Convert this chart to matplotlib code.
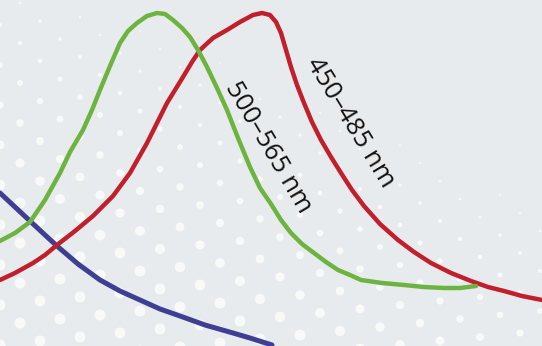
import numpy as np
import matplotlib
matplotlib.use("Agg")
import matplotlib.pyplot as plt

# Curve samples (horizontal position, vertical position from top)
green_x = [0, 15, 30, 45, 60, 70, 83, 92, 100, 110, 120, 128, 137, 147, 157, 165, 173, 182, 190, 198,
           207, 217, 227, 238, 250, 260, 271, 281, 291, 302, 314, 326, 338, 350, 361, 382, 404, 424,
           444, 460, 476]
green_y = [241, 233, 222, 200, 173, 152, 130, 110, 90, 66, 43, 31, 23, 16, 13, 14, 20, 28, 37, 50,
           67, 88, 110, 138, 167, 188, 204, 220, 233, 244, 253, 262, 270, 275, 280, 283, 285, 287,
           288, 288, 286]

red_x = [0, 15, 33, 45, 57, 75, 93, 113, 130, 147, 157, 167, 175, 183, 192, 200, 213, 227, 240, 253,
         262, 270, 276, 281, 286, 291, 297, 304, 312, 321, 331, 341, 352, 364, 380, 398, 414, 431,
         451, 471, 488, 504, 522, 542]
red_y = [280, 273, 263, 255, 245, 231, 216, 196, 173, 143, 123, 103, 90, 77, 62, 50, 38, 30, 22, 15,
         13, 15, 22, 33, 50, 67, 85, 103, 122, 140, 157, 173, 190, 206, 224, 240, 252, 263,
         273, 281, 287, 291, 296, 300]

blue_x = [0, 15, 30, 45, 57, 78, 100, 120, 140, 160, 180, 205, 233, 250, 272]
blue_y = [193, 207, 221, 235, 246, 264, 280, 291, 300, 309, 316, 325, 333, 338, 345]

labels = ["500–565 nm", "450–485 nm"]
label_pos = [(268, 147), (350, 123)]
label_rot = [-59.5, -58.5]

W, H = 542, 346
fig = plt.figure(figsize=(W / 100, H / 100), dpi=100)
ax = fig.add_axes([0, 0, 1, 1])
ax.set_xlim(0, W)
ax.set_ylim(H, 0)
ax.axis("off")
fig.patch.set_facecolor("#e8ebee")
ax.set_facecolor("#e8ebee")

# decorative dot pattern (regular grid)
dx, dy = 40, 20
pts_x, pts_y, sizes = [], [], []
for r, yy in enumerate(np.arange(5, H + 40, dy)):
    off = (r % 2) * dx / 2
    for xx in np.arange(-20 + off, W + 20, dx):
        u = xx / W
        v = yy / H
        d = 3 + 14 * v - 12 * u
        if d > 1.5:
            pts_x.append(xx)
            pts_y.append(yy - 0.1 * xx)
            sizes.append(min(d, 11))
sizes = np.array(sizes)
ax.scatter(pts_x, pts_y, s=(sizes * 0.72) ** 2, color="white", alpha=0.7,
           edgecolors="none", zorder=1)

lw = 3.2
ax.plot(blue_x, blue_y, color="#3e3f93", lw=lw + 0.4, solid_capstyle="round",
        solid_joinstyle="round", zorder=3)
ax.plot(red_x, red_y, color="#c01f2b", lw=lw, solid_capstyle="round",
        solid_joinstyle="round", zorder=3)
ax.plot(green_x, green_y, color="#6cb43f", lw=lw, solid_capstyle="round",
        solid_joinstyle="round", zorder=4)

for t, (px, py), rot in zip(labels, label_pos, label_rot):
    ax.text(px, py, t, rotation=rot, rotation_mode="anchor", ha="center", va="center",
            fontsize=18.5, family=["Open Sans", "DejaVu Sans"], color="#111111", zorder=5)

fig.savefig("out.png", dpi=100, facecolor=fig.get_facecolor())
